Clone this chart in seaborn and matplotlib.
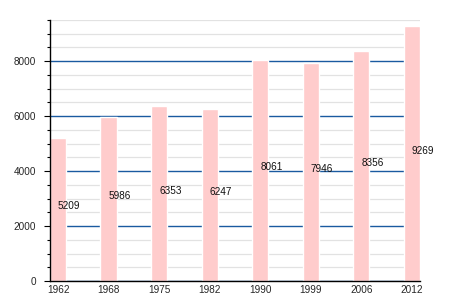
import matplotlib
matplotlib.use("Agg")
import matplotlib.pyplot as plt
import seaborn as sns
import pandas as pd
from matplotlib.ticker import MultipleLocator

years = ["1962", "1968", "1975", "1982", "1990", "1999", "2006", "2012"]
population = [5209, 5986, 6353, 6247, 8061, 7946, 8356, 9269]

sns.set_theme(style="white")
plt.rcParams['font.family'] = ['Liberation Sans', 'DejaVu Sans']

df = pd.DataFrame({"year": years, "pop": population})

fig = plt.figure(figsize=(4.5, 3), dpi=100)
ax = fig.add_axes([0.111, 0.0633, 0.822, 0.87])
ax.set_axisbelow(True)

sns.barplot(data=df, x="year", y="pop", color="#ffcccc", saturation=1,
            width=0.32, ax=ax, zorder=2)

ax.set_xlim(-0.16, 7.16)
ax.set_ylim(0, 9500)
ax.yaxis.set_major_locator(MultipleLocator(2000))
ax.yaxis.set_minor_locator(MultipleLocator(500))
ax.grid(which="minor", axis="y", color="#e2e2e2", linewidth=0.9, zorder=0)
ax.grid(which="major", axis="y", color="#1a5aa0", linewidth=1.0, zorder=1)

for i, v in enumerate(population):
    ax.text(i, v / 2, str(v), ha="left", va="baseline", fontsize=7.2,
            color="#111111", zorder=3)

ax.set_xlabel("")
ax.set_ylabel("")
for s in ["top", "right"]:
    ax.spines[s].set_visible(False)
ax.spines["left"].set_color("black")
ax.spines["bottom"].set_color("black")
ax.spines["left"].set_linewidth(1.0)
ax.spines["bottom"].set_linewidth(1.0)

ax.tick_params(axis="y", which="major", length=4, width=0.8, color="black",
               left=True, labelsize=7.2, pad=6)
ax.tick_params(axis="y", which="minor", length=2, width=0.8, color="black", left=True)
ax.tick_params(axis="x", length=0, labelsize=7.2, pad=3)

fig.savefig("out.png", dpi=100)
